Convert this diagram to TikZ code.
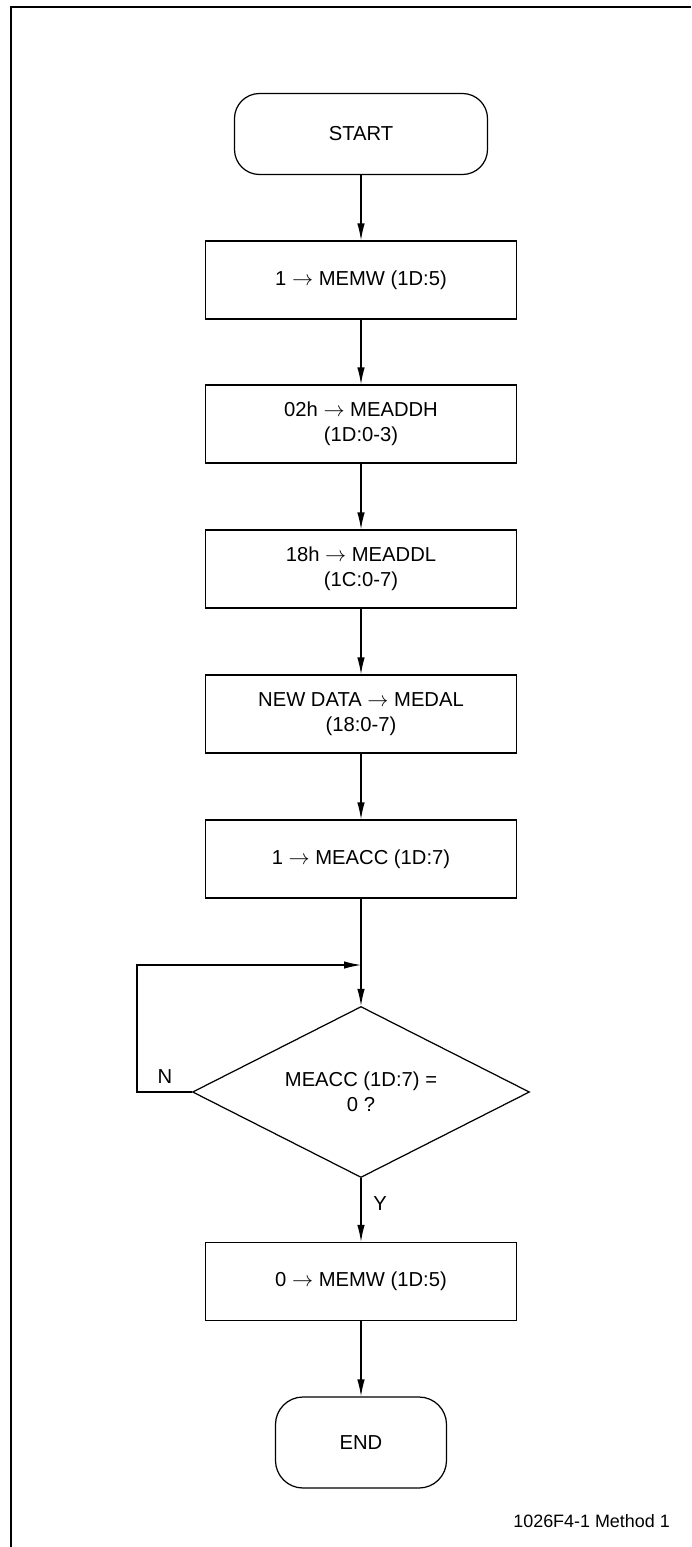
\documentclass[tikz,border=0pt]{standalone}
\usepackage{fontspec}
\setmainfont{Liberation Sans}
\usetikzlibrary{shapes.geometric,arrows.meta}
\begin{document}
\begin{tikzpicture}[font=\fontsize{11.5}{14}\selectfont]
	\tikzstyle{bloc}=[minimum width=6.22cm, minimum height=1.56cm, draw, line width=0.7pt, align=center]
	\tikzstyle{terminal}=[draw, line width=0.7pt, rounded corners=0.5cm]
	\tikzstyle{test}=[diamond, aspect=2, minimum width=6.74cm, minimum height=3.42cm, draw, line width=0.7pt, align=center, inner sep=1pt]
	\tikzstyle{fleche}=[line width=0.7pt, -{Latex[length=0.34cm, width=0.15cm]}]
	\useasboundingbox (0,0) rectangle (13.82,-30.94);
	\draw[line width=1.4pt] (0.22,-30.94) -- (0.22,-0.14) -- (13.82,-0.14); % cadre
	\node[terminal, minimum width=5.06cm, minimum height=1.62cm] (debut) at (7.22,-2.68) {START};
	\node[bloc] (memw) at (7.22,-5.60) {1 $\rightarrow$ MEMW (1D:5)};
	\node[bloc] (addh) at (7.22,-8.48) {02h $\rightarrow$ MEADDH\\(1D:0-3)};
	\node[bloc] (addl) at (7.22,-11.38) {18h $\rightarrow$ MEADDL\\(1C:0-7)};
	\node[bloc] (dal) at (7.22,-14.28) {NEW DATA $\rightarrow$ MEDAL\\(18:0-7)};
	\node[bloc] (acc) at (7.22,-17.18) {1 $\rightarrow$ MEACC (1D:7)};
	\coordinate (jonction) at (7.22,-19.30);
	\coordinate (retour) at (2.74,-19.30);
	\node[test] (attente) at (7.22,-21.84) {MEACC (1D:7) =\\0 ?};
	\node[bloc] (fin_memw) at (7.22,-25.63) {0 $\rightarrow$ MEMW (1D:5)};
	\node[terminal, minimum width=3.42cm, minimum height=1.82cm, rounded corners=0.55cm] (fin) at (7.22,-28.85) {END};
	\node (non) at (3.30,-21.54) {N};
	\node (oui) at (7.60,-24.08) {Y};
	\node[anchor=east, font=\fontsize{10.2}{12}\selectfont] (legende) at (13.52,-30.42) {1026F4-1 Method 1};
	% fleches
	\draw[fleche] (debut) -- (memw);
	\draw[fleche] (memw) -- (addh);
	\draw[fleche] (addh) -- (addl);
	\draw[fleche] (addl) -- (dal);
	\draw[fleche] (dal) -- (acc);
	\draw[fleche] (acc) -- (attente);
	\draw[fleche] (attente.west) -- (attente.west -| retour) -- (retour) -- (jonction);
	\draw[fleche] (attente) -- (fin_memw);
	\draw[fleche] (fin_memw) -- (fin);
\end{tikzpicture}
\end{document}
